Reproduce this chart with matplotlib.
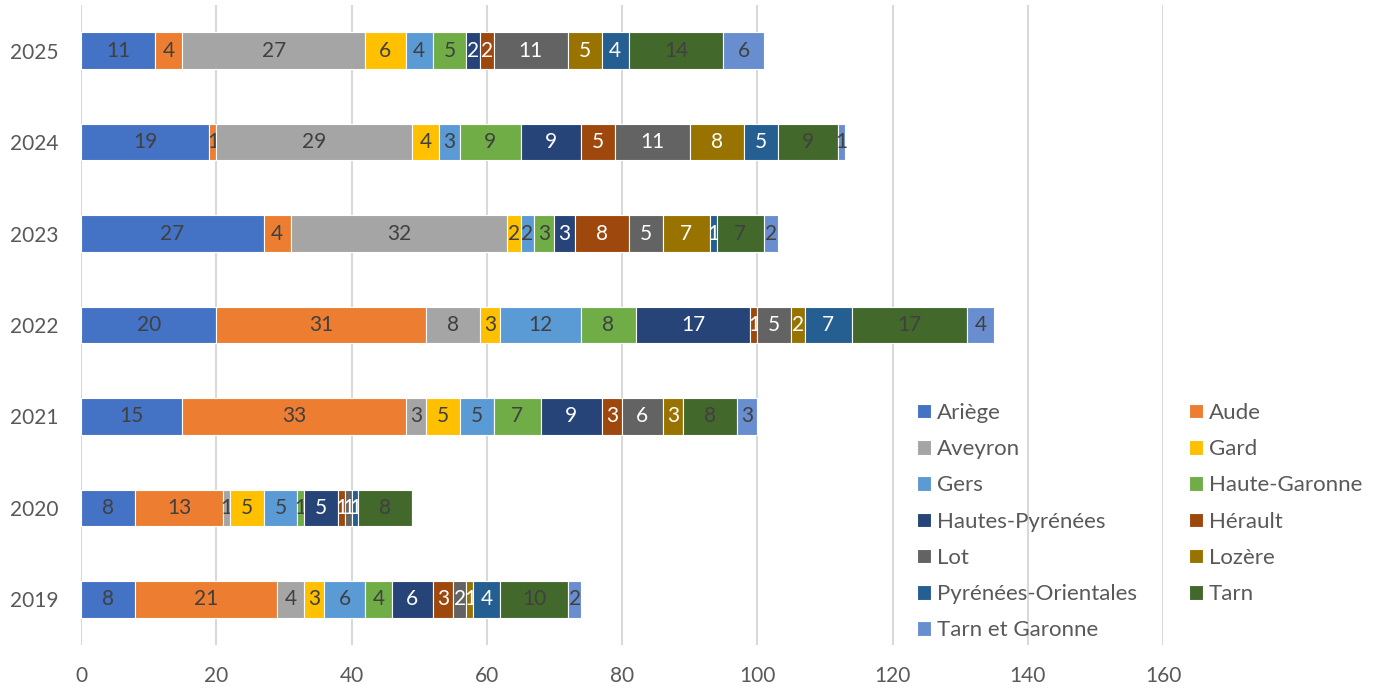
import matplotlib
matplotlib.use("Agg")
import matplotlib.pyplot as plt
import numpy as np

years = ["2019", "2020", "2021", "2022", "2023", "2024", "2025"]
departments = ["Ariège", "Aude", "Aveyron", "Gard", "Gers", "Haute-Garonne",
               "Hautes-Pyrénées", "Hérault", "Lot", "Lozère",
               "Pyrénées-Orientales", "Tarn", "Tarn et Garonne"]

# values per department, in year order 2019..2025
ariege     = [8, 8, 15, 20, 27, 19, 11]
aude       = [21, 13, 33, 31, 4, 1, 4]
aveyron    = [4, 1, 3, 8, 32, 29, 27]
gard       = [3, 5, 5, 3, 2, 4, 6]
gers       = [6, 5, 5, 12, 2, 3, 4]
haute_gar  = [4, 1, 7, 8, 3, 9, 5]
hautes_pyr = [6, 5, 9, 17, 3, 9, 2]
herault    = [3, 1, 3, 1, 8, 5, 2]
lot        = [2, 1, 6, 5, 5, 11, 11]
lozere     = [1, 0, 3, 2, 7, 8, 5]
pyr_or     = [4, 1, 0, 7, 1, 5, 4]
tarn       = [10, 8, 8, 17, 7, 9, 14]
tarn_gar   = [2, 0, 3, 4, 2, 1, 6]

series = [ariege, aude, aveyron, gard, gers, haute_gar, hautes_pyr,
          herault, lot, lozere, pyr_or, tarn, tarn_gar]

colors = ["#4472C4", "#ED7D31", "#A5A5A5", "#FFC000", "#5B9BD5", "#70AD47",
          "#264478", "#9E480E", "#636363", "#997300", "#255E91", "#43682B",
          "#698ED0"]
label_colors = ["#404040"] * 6 + ["white"] * 5 + ["#404040", "#404040"]

FONT = "Lato"
plt.rcParams["font.family"] = [FONT, "DejaVu Sans"]
FS = 15
LFS = 16
TXT = "#595959"

fig = plt.figure(figsize=(13.73, 6.90), dpi=100)
ax = fig.add_axes([81/1373, 1-645/690, (1163-81)/1373, (645-5)/690])

y = np.arange(len(years))
left = np.zeros(len(years))
handles = []
for name, vals, col, lcol in zip(departments, series, colors, label_colors):
    vals = np.array(vals, dtype=float)
    bars = ax.barh(y, vals, left=left, height=0.4, color=col,
                   edgecolor="white", linewidth=0.8, label=name, zorder=3)
    labels = [str(int(v)) if v > 0 else "" for v in vals]
    ax.bar_label(bars, labels=labels, label_type="center", color=lcol,
                 fontsize=FS)
    handles.append(bars)
    left += vals

ax.set_xlim(0, 160)
ax.set_ylim(-0.5, len(years) - 0.5)
ax.set_xticks(np.arange(0, 161, 20))
ax.set_yticks(y)
ax.set_yticklabels(years)
ax.grid(axis="x", color="#D9D9D9", linewidth=1.5, zorder=0)
ax.set_axisbelow(True)
for s in ax.spines.values():
    s.set_visible(False)
ax.tick_params(axis="both", length=0, labelsize=FS, labelcolor=TXT)
ax.tick_params(axis="x", pad=15)
ax.tick_params(axis="y", pad=16)

order = [0, 2, 4, 6, 8, 10, 12, 1, 3, 5, 7, 9, 11]
leg = fig.legend([handles[i] for i in order], [departments[i] for i in order],
                 ncol=2, loc="upper left",
                 bbox_to_anchor=(917/1373, 1-403/690),
                 frameon=False, fontsize=LFS, labelcolor=TXT,
                 handlelength=0.63, handleheight=0.63, handletextpad=0.27,
                 labelspacing=0.73, columnspacing=2.32, borderpad=0,
                 borderaxespad=0)

fig.savefig("out.png", dpi=100)
